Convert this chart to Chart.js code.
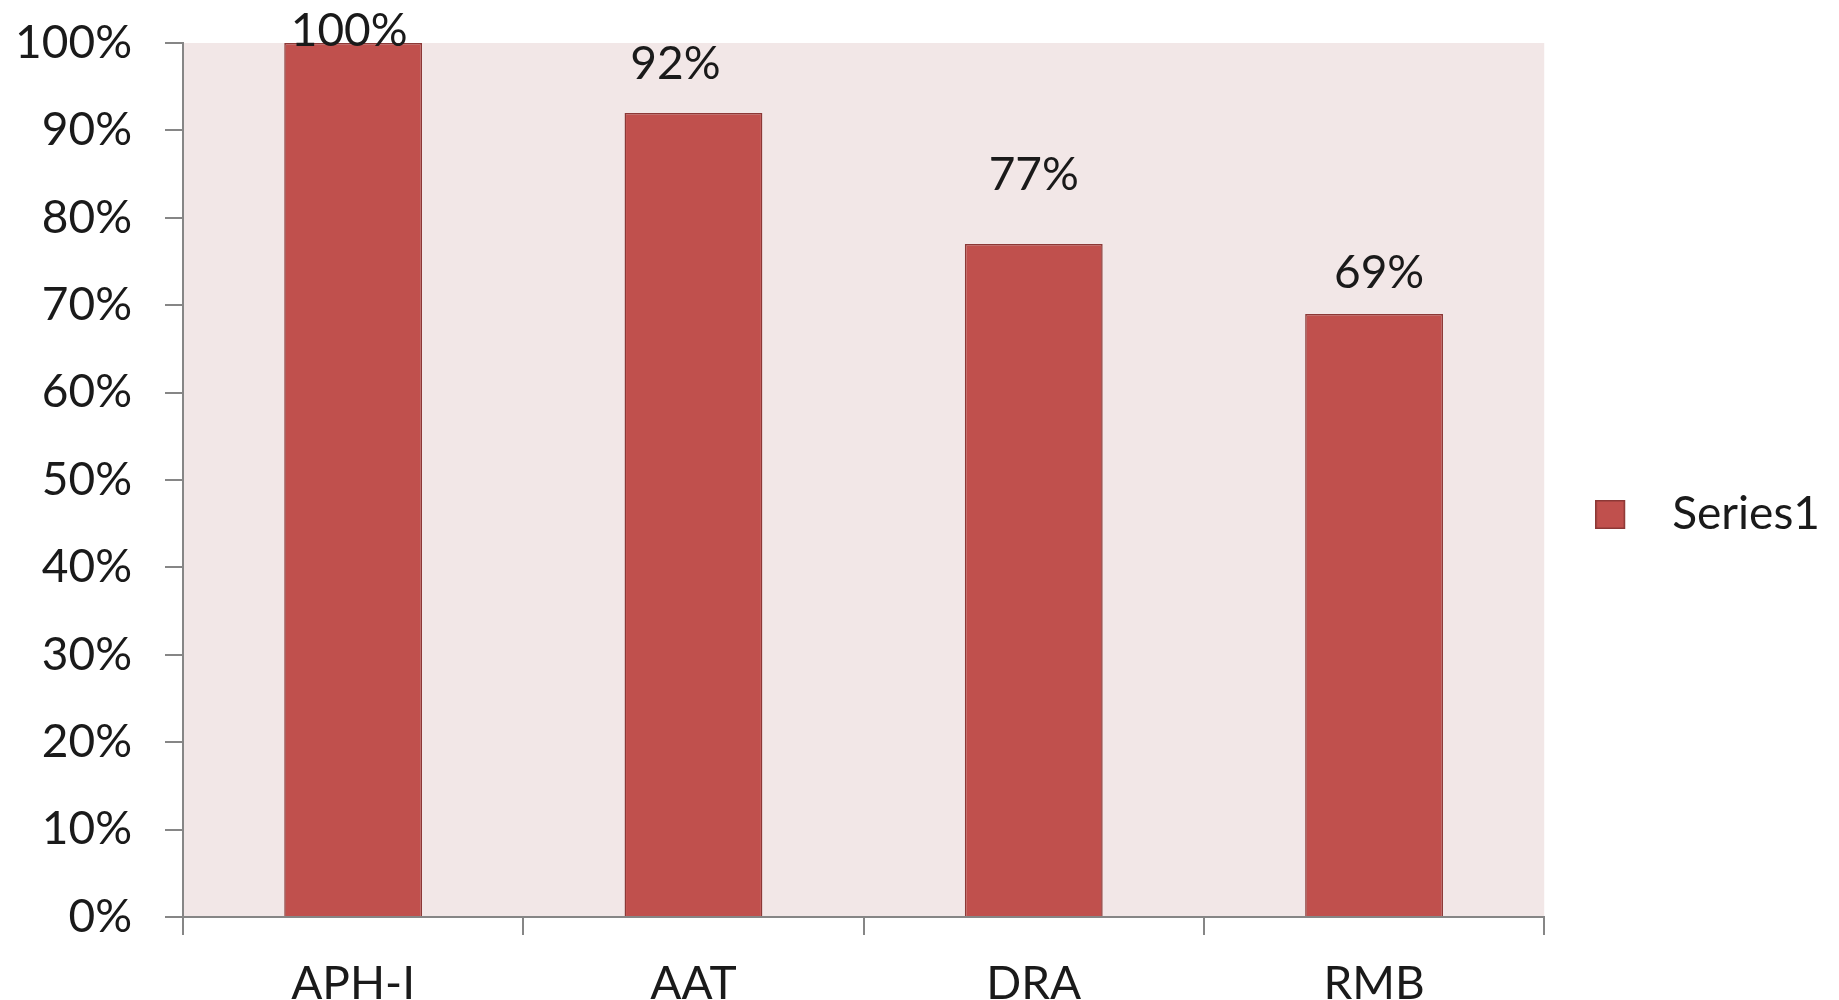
<!DOCTYPE html>
<html>
<head>
<meta charset="utf-8">
<script src="https://cdn.jsdelivr.net/npm/chart.js@4.4.1/dist/chart.umd.min.js"></script>
<style>
    body { margin: 0; background: #fff; }
    #wrap { width: 1839px; height: 1000px; }
</style>
</head>
<body>
<div id="wrap"><canvas id="myChart" width="1839" height="1000"></canvas></div>
<script>
let categories = ['APH-I', 'AAT', 'DRA', 'RMB'];
let series1 = [1.00, 0.92, 0.77, 0.69];
let yTicks = [0, 0.1, 0.2, 0.3, 0.4, 0.5, 0.6, 0.7, 0.8, 0.9, 1.0];

const axisGrey = '#868686';
const barRed = '#C0504D';
const barEdge = '#8C3836';
const fontName = 'Lato';
const fontSize = 46;

// legend swatch: red square on the left, empty space after it (excel leaves a wide gap)
function legendSwatch() {
    const c = document.createElement('canvas');
    c.width = 54;
    c.height = 29;
    const g = c.getContext('2d');
    g.fillStyle = barRed;
    g.fillRect(0, 0, 30, 29);
    g.strokeStyle = barEdge;
    g.lineWidth = 1.5;
    g.strokeRect(0.75, 0.75, 28.5, 27.5);
    return c;
}

// pink fill behind the bars
const plotBg = {
    id: 'plotBg',
    beforeDraw(chart) {
        const a = chart.chartArea;
        const ctx = chart.ctx;
        ctx.save();
        ctx.fillStyle = '#F2E7E7';
        ctx.fillRect(a.left, a.top, a.right - a.left, a.bottom - a.top);
        ctx.restore();
    }
};

// legend sits a little above the middle of the canvas in the original
const legendNudge = {
    id: 'legendNudge',
    afterLayout(chart) {
        if (chart.legend) {
            chart.legend.bottom -= 14;
        }
    }
};

// value labels above bars, kept inside the canvas like excel does
const valueLabels = {
    id: 'valueLabels',
    afterDatasetsDraw(chart, args, opts) {
        const ctx = chart.ctx;
        const meta = chart.getDatasetMeta(0);
        ctx.save();
        ctx.font = opts.size + 'px ' + fontName;
        ctx.fillStyle = '#1a1a1a';
        ctx.textAlign = 'center';
        ctx.textBaseline = 'middle';
        meta.data.forEach(function(bar, i) {
            let y = Math.max(bar.y - opts.gaps[i], opts.minY);
            ctx.fillText(Math.round(series1[i] * 100) + '%', bar.x + opts.shifts[i], y);
        });
        ctx.restore();
    }
};

let ctx = document.getElementById('myChart').getContext('2d');
const swatch = legendSwatch();

let myChart = new Chart(ctx, {
    type: 'bar',
    data: {
        labels: categories,
        datasets: [{
            label: 'Series1',
            data: series1,
            backgroundColor: barRed,
            borderColor: barEdge,
            borderWidth: 1.5,
            categoryPercentage: 1,
            barPercentage: 0.405,
        }]
    },
    options: {
        responsive: false,
        animation: false,
        layout: {
            padding: { top: 43, right: 9, left: 0, bottom: 0 }
        },
        scales: {
            x: {
                grid: {
                    drawOnChartArea: false,
                    drawTicks: true,
                    tickLength: 18,
                    color: axisGrey,
                    lineWidth: 2,
                },
                border: { display: true, color: axisGrey, width: 2 },
                ticks: {
                    color: '#1a1a1a',
                    padding: 26,
                    font: { family: fontName, size: fontSize, lineHeight: 1 },
                    maxRotation: 0,
                },
                afterFit: function(scale) {
                    scale.height = 83;
                }
            },
            y: {
                min: 0,
                max: 1,
                afterBuildTicks: function(scale) {
                    scale.ticks = yTicks.map(v => ({ value: v }));
                },
                grid: {
                    drawOnChartArea: false,
                    drawTicks: true,
                    tickLength: 18,
                    color: axisGrey,
                    lineWidth: 2,
                },
                border: { display: true, color: axisGrey, width: 2 },
                ticks: {
                    color: '#1a1a1a',
                    padding: 33,
                    font: { family: fontName, size: fontSize, lineHeight: 1 },
                    callback: function(value) {
                        return Math.round(value * 100) + '%';
                    }
                },
                afterFit: function(scale) {
                    scale.width = 183;
                    scale.paddingTop = 0;
                    scale.paddingBottom = 0;
                }
            }
        },
        plugins: {
            legend: {
                display: true,
                position: 'right',
                labels: {
                    color: '#1a1a1a',
                    usePointStyle: true,
                    pointStyleWidth: 54,
                    boxHeight: 29,
                    padding: 51,
                    font: { family: fontName, size: fontSize },
                    generateLabels: function(chart) {
                        return chart.data.datasets.map(function(ds, i) {
                            return {
                                text: ds.label,
                                pointStyle: swatch,
                                fontColor: '#1a1a1a',
                                hidden: false,
                                datasetIndex: i,
                            };
                        });
                    }
                }
            },
            tooltip: { enabled: false },
            valueLabels: {
                size: fontSize,
                gaps: [50, 49, 69, 41],
                shifts: [-4, -18, 0, 5],
                minY: 31,
            }
        }
    },
    plugins: [plotBg, legendNudge, valueLabels]
});
</script>
</body>
</html>
